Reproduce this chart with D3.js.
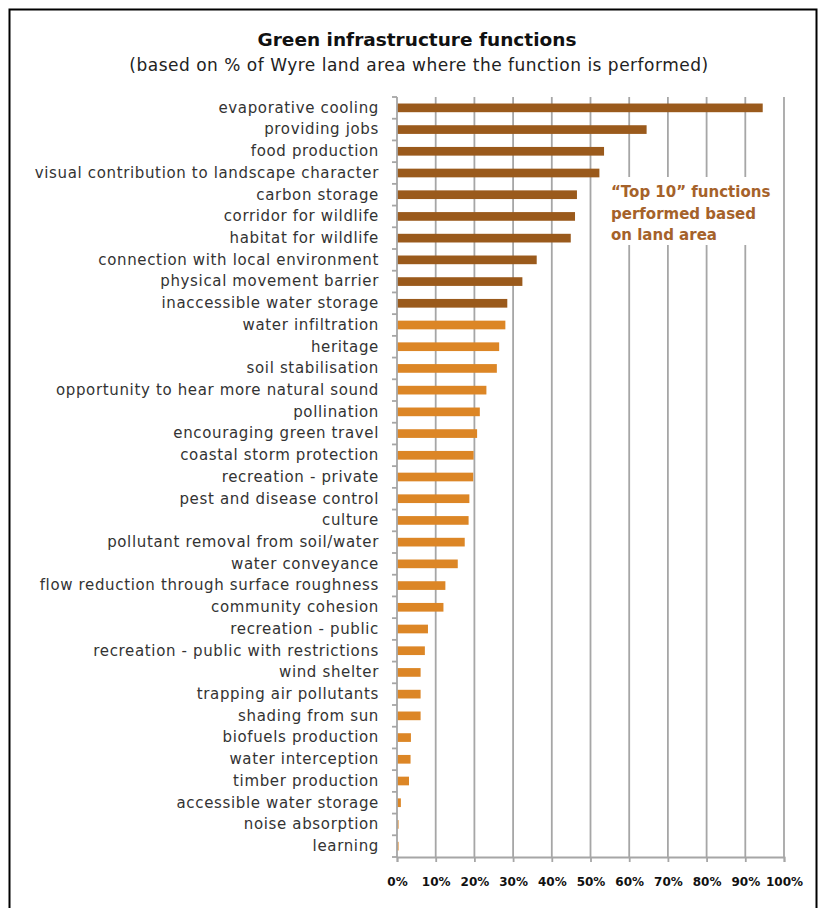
<!DOCTYPE html>
<html>
<head>
<meta charset="utf-8">
<script src="https://cdn.jsdelivr.net/npm/d3@7"></script>
<style>
  body { margin: 0; background: #fff; }
  svg { display: block; }
</style>
</head>
<body>
<div id="chart"></div>
<script>
// data (% of Wyre land area)
var functions = [
    "evaporative cooling", "providing jobs", "food production",
    "visual contribution to landscape character", "carbon storage",
    "corridor for wildlife", "habitat for wildlife",
    "connection with local environment", "physical movement barrier",
    "inaccessible water storage", "water infiltration", "heritage",
    "soil stabilisation", "opportunity to hear more natural sound",
    "pollination", "encouraging green travel", "coastal storm protection",
    "recreation - private", "pest and disease control", "culture",
    "pollutant removal from soil/water", "water conveyance",
    "flow reduction through surface roughness", "community cohesion",
    "recreation - public", "recreation - public with restrictions",
    "wind shelter", "trapping air pollutants", "shading from sun",
    "biofuels production", "water interception", "timber production",
    "accessible water storage", "noise absorption", "learning"
]
var landArea = [
    94.5, 64.5, 53.5, 52.3, 46.5, 46.0, 44.9, 36.1, 32.4, 28.5,
    28.0, 26.4, 25.8, 23.1, 21.4, 20.7, 19.8, 19.7, 18.7, 18.5,
    17.5, 15.7, 12.5, 12.0, 8.0, 7.2, 6.1, 6.1, 6.1, 3.6,
    3.5, 3.1, 1.0, 0.4, 0.4
]
var topN = 10
var xTicks = [0, 10, 20, 30, 40, 50, 60, 70, 80, 90, 100]
var noteLines = ["\u201cTop 10\u201d functions", "performed based", "on land area"]

var W = 825, H = 908
var margin = {top: 97, left: 397, right: 41, bottom: 51}
var plotW = W - margin.left - margin.right
var plotH = H - margin.top - margin.bottom

var labelFont = "'DejaVu Sans', sans-serif"

var svg = d3.select("#chart").append("svg")
    .attr("width", W)
    .attr("height", H)

// frame
svg.append("rect")
    .attr("x", 9.5).attr("y", 9.5)
    .attr("width", 807).attr("height", 910)
    .attr("fill", "none")
    .attr("stroke", "#000")
    .attr("stroke-width", 2)

svg.append("text")
    .attr("x", 417).attr("y", 46)
    .attr("text-anchor", "middle")
    .style("font-family", labelFont)
    .style("font-weight", "bold")
    .style("font-size", "18.5px")
    .style("fill", "#111")
    .text("Green infrastructure functions")

svg.append("text")
    .attr("x", 419).attr("y", 71)
    .attr("text-anchor", "middle")
    .style("font-family", labelFont)
    .style("font-size", "17px")
    .style("letter-spacing", "0.5px")
    .style("fill", "#222")
    .text("(based on % of Wyre land area where the function is performed)")

var g = svg.append("g")
    .attr("transform", "translate(" + margin.left + "," + margin.top + ")")

var x = d3.scaleLinear()
    .domain([0, 100])
    .range([0, plotW])

var y = d3.scaleBand()
    .domain(functions)
    .range([0, plotH])
    .paddingInner(0.6)
    .paddingOuter(0.3)

// gridlines
g.selectAll(".grid")
    .data(xTicks.slice(1))
    .enter().append("line")
    .attr("class", "grid")
    .attr("x1", d => x(d)).attr("x2", d => x(d))
    .attr("y1", 0).attr("y2", plotH)
    .attr("stroke", "#a6a6a6")
    .attr("stroke-width", 1.8)

// bars
g.selectAll(".bar")
    .data(landArea)
    .enter().append("rect")
    .attr("class", "bar")
    .attr("x", x(0))
    .attr("y", (d, i) => y(functions[i]))
    .attr("width", d => x(d) - x(0))
    .attr("height", y.bandwidth())
    .attr("fill", (d, i) => i < topN ? "#9a5a1c" : "#dc8626")

// y axis
var yAxis = g.append("g")
    .call(d3.axisLeft(y).tickSize(0).tickPadding(18))
yAxis.select(".domain").remove()
yAxis.selectAll("text")
    .style("font-family", labelFont)
    .style("font-size", "15px")
    .style("letter-spacing", "0.65px")
    .style("fill", "#333")

// y tick marks on band edges
g.selectAll(".ytick")
    .data(d3.range(functions.length + 1))
    .enter().append("line")
    .attr("x1", -5).attr("x2", 0)
    .attr("y1", d => d * plotH / functions.length)
    .attr("y2", d => d * plotH / functions.length)
    .attr("stroke", "#a6a6a6")
    .attr("stroke-width", 1.8)

g.append("line")
    .attr("x1", 0).attr("x2", 0)
    .attr("y1", 0).attr("y2", plotH)
    .attr("stroke", "#a6a6a6")
    .attr("stroke-width", 1.8)

// x axis
var xAxis = g.append("g")
    .attr("transform", "translate(0," + plotH + ")")
    .call(d3.axisBottom(x).tickValues(xTicks).tickSize(5).tickPadding(15)
        .tickFormat(d => d + "%"))
xAxis.select(".domain")
    .attr("stroke", "#a6a6a6")
    .attr("stroke-width", 1.8)
xAxis.selectAll("line")
    .attr("stroke", "#a6a6a6")
    .attr("stroke-width", 1.8)
xAxis.selectAll("text")
    .style("font-family", labelFont)
    .style("font-weight", "bold")
    .style("font-size", "12px")
    .style("fill", "#111")

// note with white backing over the gridlines
svg.append("rect")
    .attr("x", 603).attr("y", 177)
    .attr("width", 176).attr("height", 68)
    .attr("fill", "#fff")

svg.append("g").selectAll("text")
    .data(noteLines)
    .enter().append("text")
    .attr("x", 611)
    .attr("y", (d, i) => 197 + i * 21.5)
    .style("font-family", labelFont)
    .style("font-weight", "bold")
    .style("font-size", "15px")
    .style("fill", "#a5622a")
    .text(d => d)
</script>
</body>
</html>
